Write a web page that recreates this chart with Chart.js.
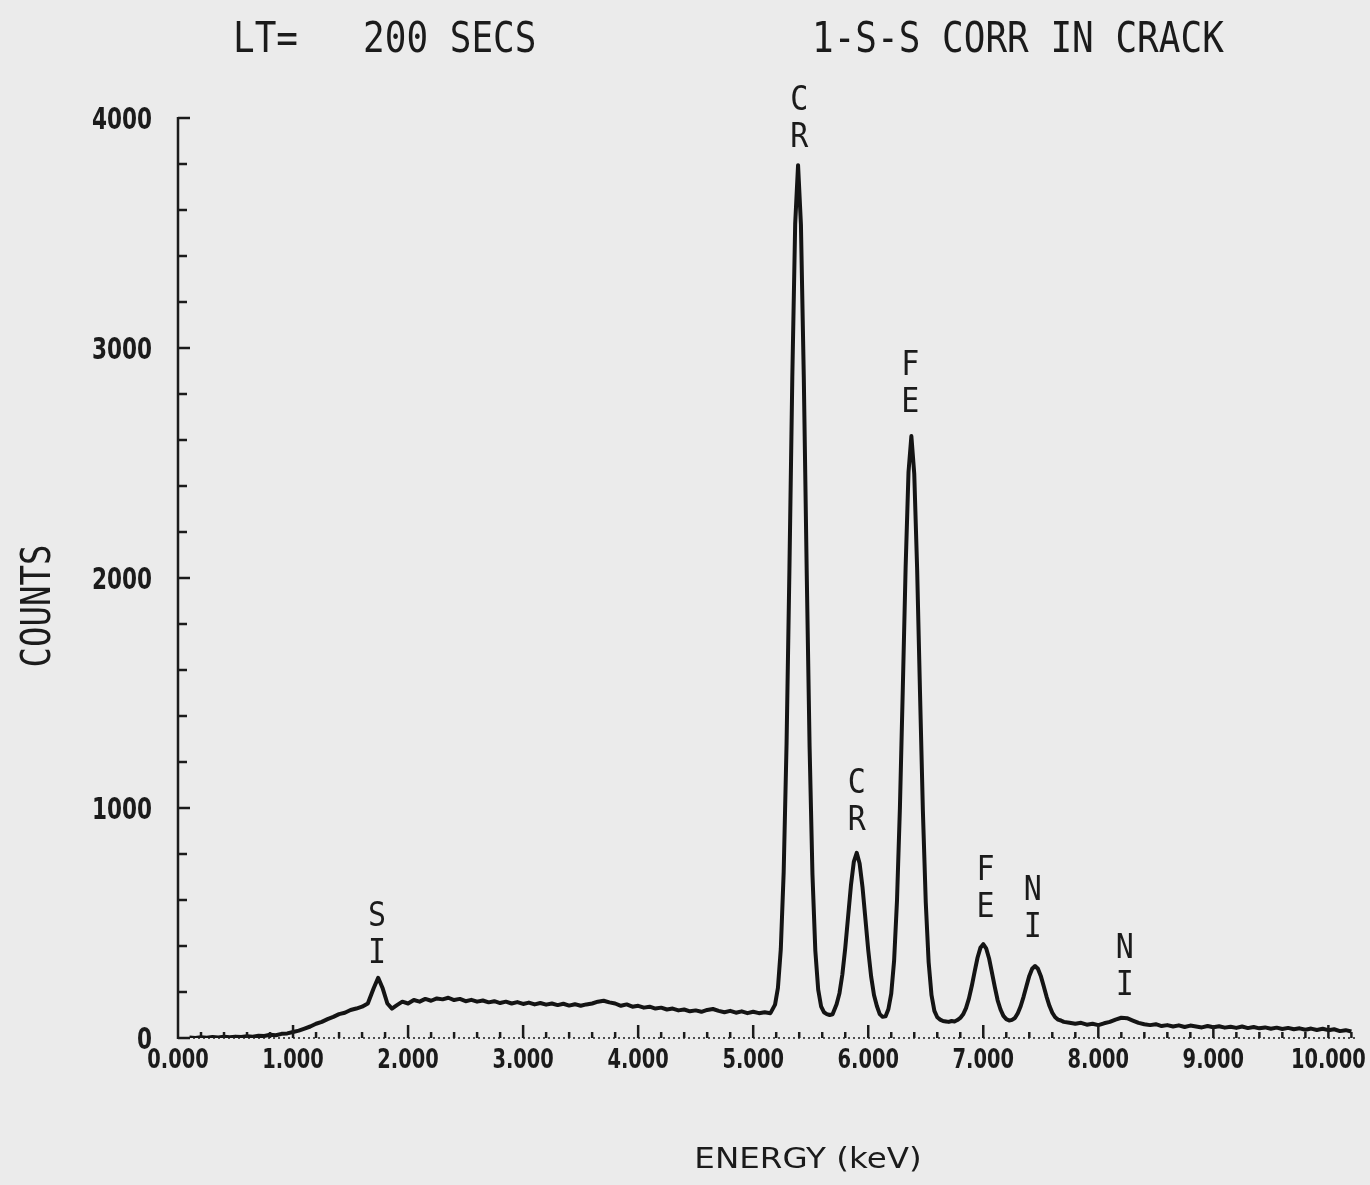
<!DOCTYPE html>
<html>
<head>
<meta charset="utf-8">
<title>EDS spectrum</title>
<script src="https://cdn.jsdelivr.net/npm/chart.js@4.4.1/dist/chart.umd.min.js"></script>
<style>
  body { margin: 0; background: #ebebeb; }
  canvas { display: block; }
</style>
</head>
<body>
<canvas id="spectrum" width="1370" height="1185"></canvas>
<script>
// spectrum (keV, counts)
const energy = [
  0.10, 0.15, 0.20, 0.25, 0.30, 0.35, 0.40, 0.45, 0.50, 0.55,
  0.60, 0.65, 0.70, 0.75, 0.80, 0.85, 0.90, 0.95, 1.00, 1.05,
  1.10, 1.15, 1.20, 1.25, 1.30, 1.35, 1.40, 1.45, 1.50, 1.55,
  1.60, 1.65, 1.70, 1.74, 1.78, 1.82, 1.86, 1.90, 1.95, 2.00,
  2.05, 2.10, 2.15, 2.20, 2.25, 2.30, 2.35, 2.40, 2.45, 2.50,
  2.55, 2.60, 2.65, 2.70, 2.75, 2.80, 2.85, 2.90, 2.95, 3.00,
  3.05, 3.10, 3.15, 3.20, 3.25, 3.30, 3.35, 3.40, 3.45, 3.50,
  3.55, 3.60, 3.65, 3.70, 3.75, 3.80, 3.85, 3.90, 3.95, 4.00,
  4.05, 4.10, 4.15, 4.20, 4.25, 4.30, 4.35, 4.40, 4.45, 4.50,
  4.55, 4.60, 4.65, 4.70, 4.75, 4.80, 4.85, 4.90, 4.95, 5.00,
  5.05, 5.10, 5.15, 5.19, 5.215, 5.24, 5.265, 5.29, 5.315, 5.34,
  5.365, 5.39, 5.415, 5.44, 5.465, 5.49, 5.515, 5.54, 5.565, 5.59,
  5.615, 5.64, 5.665, 5.69, 5.725, 5.75, 5.775, 5.80, 5.825, 5.85,
  5.875, 5.90, 5.925, 5.95, 5.975, 6.00, 6.025, 6.05, 6.075, 6.10,
  6.125, 6.15, 6.175, 6.20, 6.225, 6.25, 6.275, 6.30, 6.325, 6.35,
  6.375, 6.40, 6.425, 6.45, 6.475, 6.50, 6.525, 6.55, 6.575, 6.60,
  6.625, 6.65, 6.675, 6.70, 6.725, 6.75, 6.775, 6.80, 6.825, 6.85,
  6.875, 6.90, 6.925, 6.95, 6.975, 7.00, 7.025, 7.05, 7.075, 7.10,
  7.125, 7.15, 7.175, 7.20, 7.225, 7.25, 7.275, 7.30, 7.325, 7.35,
  7.375, 7.40, 7.425, 7.45, 7.475, 7.50, 7.525, 7.55, 7.575, 7.60,
  7.625, 7.65, 7.675, 7.70, 7.75, 7.80, 7.85, 7.90, 7.95, 8.00,
  8.05, 8.10, 8.15, 8.20, 8.25, 8.30, 8.35, 8.40, 8.45, 8.50,
  8.55, 8.60, 8.65, 8.70, 8.75, 8.80, 8.85, 8.90, 8.95, 9.00,
  9.05, 9.10, 9.15, 9.20, 9.25, 9.30, 9.35, 9.40, 9.45, 9.50,
  9.55, 9.60, 9.65, 9.70, 9.75, 9.80, 9.85, 9.90, 9.95, 10.00,
  10.05, 10.10, 10.15, 10.20
];
const counts = [
  2, 0, 3, 1, 4, 2, 5, 3, 6, 4,
  8, 6, 10, 9, 14, 12, 18, 20, 26, 32,
  41, 50, 62, 70, 82, 92, 104, 110, 122, 128,
  136, 150, 215, 262, 215, 150, 128, 142, 158, 150,
  165, 158, 170, 162, 172, 168, 175, 165, 170, 160,
  166, 158, 163, 155, 160, 152, 158, 150, 156, 148,
  154, 146, 152, 145, 150, 143, 149, 141, 147, 140,
  146, 150, 158, 162, 155, 150, 140, 146, 136, 140,
  132, 136, 128, 132, 124, 128, 120, 124, 116, 120,
  114, 122, 126, 118, 112, 118, 110, 116, 108, 114,
  108, 112, 108, 145, 218, 387, 721, 1278, 2040, 2873,
  3540, 3795, 3535, 2868, 2034, 1270, 713, 380, 210, 138,
  112, 104, 100, 103, 147, 195, 276, 390, 528, 665,
  767, 805, 759, 657, 520, 382, 268, 187, 139, 104,
  92, 94, 125, 193, 337, 597, 995, 1509, 2047, 2460,
  2617, 2453, 2040, 1502, 988, 590, 330, 186, 118, 90,
  80, 74, 72, 70, 74, 72, 78, 87, 103, 130,
  171, 226, 289, 349, 392, 408, 390, 347, 285, 222,
  164, 124, 96, 82, 76, 79, 87, 108, 138, 179,
  225, 270, 301, 313, 301, 270, 226, 180, 140, 110,
  90, 80, 76, 70, 66, 62, 66, 58, 62, 56,
  64, 70, 80, 88, 86, 76, 66, 60, 56, 60,
  52, 56, 50, 55, 48, 54, 50, 46, 52, 47,
  51, 45, 49, 44, 50, 43, 48, 42, 46, 40,
  45, 39, 44, 38, 42, 36, 41, 35, 40, 34,
  38, 30, 34, 28
];

const xTickValues = [0, 1, 2, 3, 4, 5, 6, 7, 8, 9, 10];
const xTickLabels = ['0.000', '1.000', '2.000', '3.000', '4.000', '5.000',
                     '6.000', '7.000', '8.000', '9.000', '10.000'];
const yTickValues = [0, 1000, 2000, 3000, 4000];
const yTickLabels = ['0', '1000', '2000', '3000', '4000'];

// element labels over the peaks
const peakNames = ['SI', 'CR', 'CR', 'FE', 'FE', 'NI', 'NI'];
const peakEnergy = [1.73, 5.40, 5.90, 6.365, 7.02, 7.43, 8.23];
const peakLabelAt = [326, 3874, 904, 2722, 526, 439, 187];

const headLeft = 'LT=   200 SECS';
const headRight = '1-S-S CORR IN CRACK';
const xTitle = 'ENERGY (keV)';
const yTitle = 'COUNTS';

const INK = '#1b1b1b';
const MONO = '"DejaVu Sans Mono", monospace';
const COND = '"DejaVu Sans Condensed", "DejaVu Sans", sans-serif';

function squeezeText(ctx, text, x, y, sx, sy, align) {
    ctx.save();
    ctx.translate(x, y);
    ctx.scale(sx, sy);
    ctx.textAlign = align;
    ctx.textBaseline = 'alphabetic';
    ctx.fillText(text, 0, 0);
    ctx.restore();
}

const decor = {
    id: 'decor',
    beforeDraw(chart) {
        const ctx = chart.ctx;
        ctx.save();
        ctx.fillStyle = '#ebebeb';
        ctx.fillRect(0, 0, chart.width, chart.height);
        ctx.restore();
    },
    afterDraw(chart) {
        const ctx = chart.ctx;
        const xs = chart.scales.x;
        const ys = chart.scales.y;
        const x0 = xs.getPixelForValue(0);
        const y0 = ys.getPixelForValue(0);
        const yTop = ys.getPixelForValue(4000);

        ctx.save();
        ctx.strokeStyle = INK;
        ctx.fillStyle = INK;

        // y axis with inward ticks
        ctx.lineWidth = 2.5;
        ctx.beginPath();
        ctx.moveTo(x0, yTop - 1);
        ctx.lineTo(x0, y0 + 1);
        ctx.stroke();
        for (let v = 0; v <= 4000; v += 200) {
            const py = ys.getPixelForValue(v);
            ctx.beginPath();
            ctx.moveTo(x0, py);
            ctx.lineTo(x0 + (v % 1000 === 0 ? 12 : 9), py);
            ctx.stroke();
        }

        // dotted x baseline with upward ticks
        ctx.lineWidth = 1.5;
        ctx.setLineDash([2, 3]);
        ctx.beginPath();
        ctx.moveTo(x0, y0);
        ctx.lineTo(xs.getPixelForValue(10.24), y0);
        ctx.stroke();
        ctx.setLineDash([]);
        ctx.lineWidth = 2.5;
        for (let i = 1; i <= 51; i++) {
            const px = xs.getPixelForValue(i * 0.2);
            ctx.beginPath();
            ctx.moveTo(px, y0);
            ctx.lineTo(px, y0 - (i % 5 === 0 ? 13 : 6));
            ctx.stroke();
        }

        // tick labels, narrow bold like the plotter font
        ctx.font = 'bold 27px ' + COND;
        xs.ticks.forEach((t, i) => {
            squeezeText(ctx, xTickLabels[i], xs.getPixelForValue(t.value), y0 + 30, 0.8, 1, 'center');
        });
        ctx.font = 'bold 30px ' + COND;
        ys.ticks.forEach((t, i) => {
            squeezeText(ctx, yTickLabels[i], x0 - 26, ys.getPixelForValue(t.value) + 11, 0.8, 1, 'right');
        });

        // header
        ctx.font = '36px ' + MONO;
        squeezeText(ctx, headLeft, 233, 52, 1, 1.2, 'left');
        squeezeText(ctx, headRight, 812, 52, 1, 1.2, 'left');

        // axis titles
        ctx.font = '31px ' + COND.replace('"DejaVu Sans Condensed", ', '');
        squeezeText(ctx, xTitle, 808, 1168, 1.05, 0.92, 'center');
        ctx.save();
        ctx.translate(50, 606);
        ctx.rotate(-Math.PI / 2);
        ctx.font = '34px ' + MONO;
        squeezeText(ctx, yTitle, 0, 0, 1, 1.2, 'center');
        ctx.restore();

        // peak labels
        ctx.font = '30px ' + MONO;
        peakNames.forEach((name, i) => {
            const px = xs.getPixelForValue(peakEnergy[i]);
            const py = ys.getPixelForValue(peakLabelAt[i]);
            squeezeText(ctx, name[0], px, py - 37, 1, 1.15, 'center');
            squeezeText(ctx, name[1], px, py, 1, 1.15, 'center');
        });
        ctx.restore();
    }
};

new Chart(document.getElementById('spectrum'), {
    type: 'line',
    data: {
        datasets: [{
            data: energy.map((e, i) => ({ x: e, y: counts[i] })),
            borderColor: '#141414',
            borderWidth: 4,
            borderJoinStyle: 'round',
            pointRadius: 0,
            tension: 0,
            fill: false
        }]
    },
    options: {
        responsive: false,
        animation: false,
        layout: { padding: { left: 0, right: 14, top: 118, bottom: 0 }, autoPadding: false },
        plugins: { legend: { display: false }, tooltip: { enabled: false } },
        scales: {
            x: {
                type: 'linear',
                min: 0,
                max: 10.24,
                grid: { display: false, drawTicks: false },
                border: { display: false },
                afterBuildTicks: s => { s.ticks = xTickValues.map(v => ({ value: v })); },
                afterFit: s => { s.height = 147; },
                ticks: { display: false }
            },
            y: {
                type: 'linear',
                min: 0,
                max: 4000,
                grid: { display: false, drawTicks: false },
                border: { display: false },
                afterBuildTicks: s => { s.ticks = yTickValues.map(v => ({ value: v })); },
                afterFit: s => { s.width = 178; },
                ticks: { display: false }
            }
        }
    },
    plugins: [decor]
});
</script>
</body>
</html>
